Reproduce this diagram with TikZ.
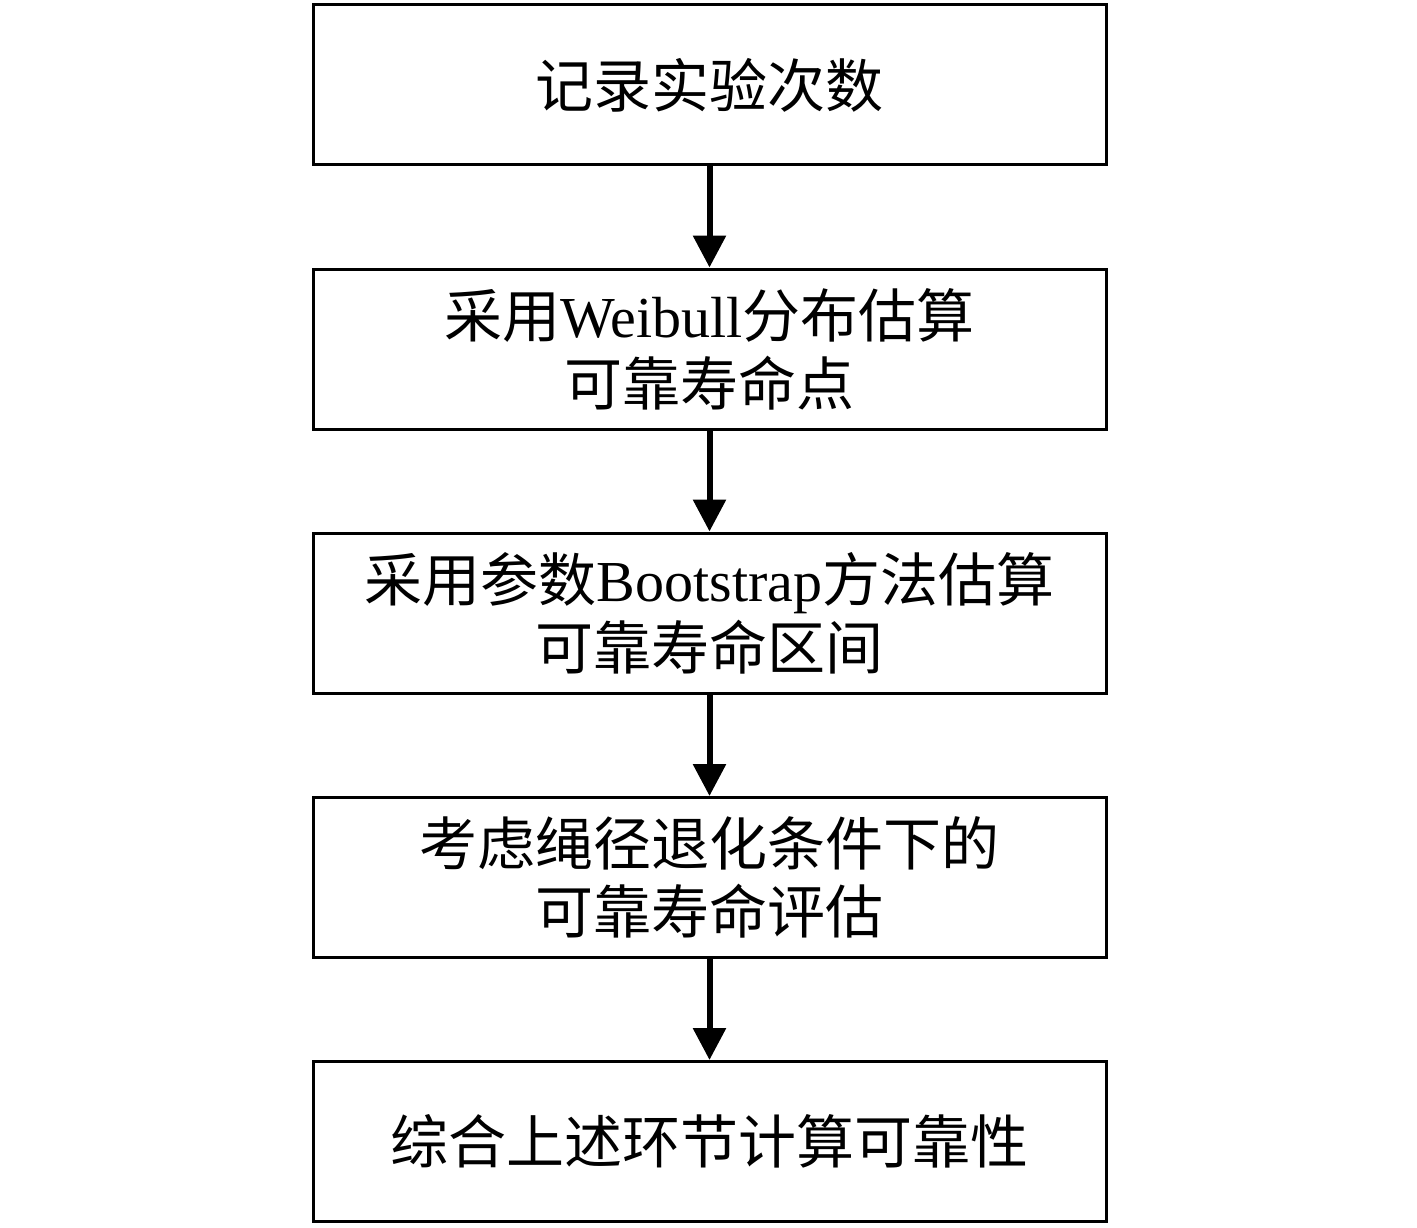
\documentclass[tikz,border=0pt]{standalone}
\usepackage{fontspec}
\setmainfont{Liberation Serif}
\newfontfamily\cjk{Noto Sans CJK SC}
\usetikzlibrary{arrows.meta}
\begin{document}
\begin{tikzpicture}[x=1pt,y=-1pt,
  flowbox/.style={draw=black, line width=3pt, rectangle, minimum width=793pt, minimum height=160pt, inner sep=0pt, align=center, font=\fontsize{58}{68}\selectfont},
  flowarrow/.style={line width=6pt, -{Triangle[length=32pt,width=32pt]}}]
\useasboundingbox[fill=white] (0,0) rectangle (1417,1228);
\node[flowbox] (b1) at (709.5,85) {\cjk 记录实验次数};
\node[flowbox] (b2) at (709.5,349) {{\cjk 采用}Weibull{\cjk 分布估算}\\{\cjk 可靠寿命点}};
\node[flowbox] (b3) at (709.5,613) {{\cjk 采用参数}Bootstrap{\cjk 方法估算}\\{\cjk 可靠寿命区间}};
\node[flowbox] (b4) at (709.5,877.5) {{\cjk 考虑绳径退化条件下的}\\{\cjk 可靠寿命评估}};
\node[flowbox] (b5) at (709.5,1141.5) {\cjk 综合上述环节计算可靠性};
\draw[flowarrow] (b1.south) -- (b2.north);
\draw[flowarrow] (b2.south) -- (b3.north);
\draw[flowarrow] (b3.south) -- (b4.north);
\draw[flowarrow] (b4.south) -- (b5.north);
\end{tikzpicture}
\end{document}
